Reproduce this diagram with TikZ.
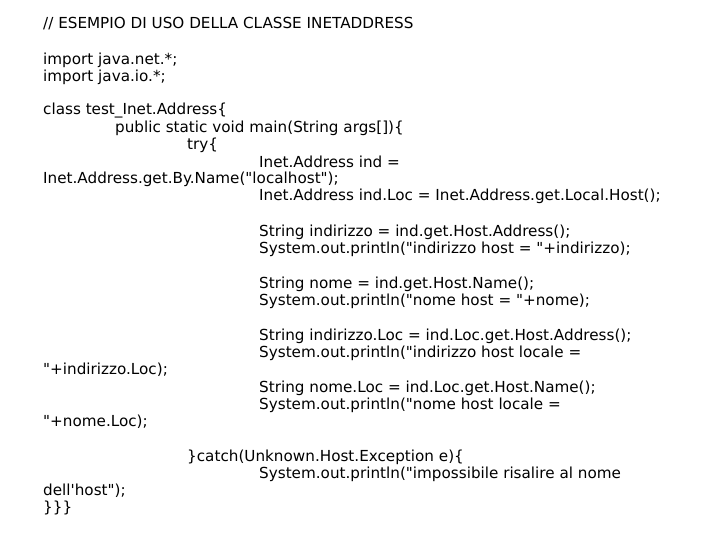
\documentclass[tikz,border=0pt]{standalone}
\usepackage{fontspec}
\newfontfamily\codefont{DejaVu Sans}
\newcommand{\dq}{\char34{}}
\newcommand{\sq}{\char39{}}
\begin{document}
\begin{tikzpicture}[x=1pt,y=-1pt,t/.style={anchor=west,inner sep=0pt,font=\codefont\fontsize{15.2}{17}\selectfont,text=black}]
\useasboundingbox (0,0) rectangle (720,540);
\node[t] (l1) at (43,24) {// ESEMPIO DI USO DELLA CLASSE INETADDRESS};
\node[t] (l2) at (43,60) {import java.net.*;};
\node[t] (l3) at (43,77) {import java.io.*;};
\node[t] (l4) at (43,111) {class test\_Inet.Address\{};
\node[t] (l5) at (115,128) {public static void main(String args[])\{};
\node[t] (l6) at (187,145) {try\{};
\node[t] (l7) at (259,162) {Inet.Address ind =};
\node[t] (l8) at (43,179) {Inet.Address.get.By.Name(\dq localhost\dq);};
\node[t] (l9) at (259,196) {Inet.Address ind.Loc = Inet.Address.get.Local.Host();};
\node[t] (l10) at (259,232) {String indirizzo = ind.get.Host.Address();};
\node[t] (l11) at (259,249) {System.out.println(\dq indirizzo host = \dq+indirizzo);};
\node[t] (l12) at (259,284) {String nome = ind.get.Host.Name();};
\node[t] (l13) at (259,301) {System.out.println(\dq nome host = \dq+nome);};
\node[t] (l14) at (259,336) {String indirizzo.Loc = ind.Loc.get.Host.Address();};
\node[t] (l15) at (259,353) {System.out.println(\dq indirizzo host locale =};
\node[t] (l16) at (43,370) {\dq+indirizzo.Loc);};
\node[t] (l17) at (259,388) {String nome.Loc = ind.Loc.get.Host.Name();};
\node[t] (l18) at (259,405) {System.out.println(\dq nome host locale =};
\node[t] (l19) at (43,422) {\dq+nome.Loc);};
\node[t] (l20) at (187,457) {\}catch(Unknown.Host.Exception e)\{};
\node[t] (l21) at (259,474) {System.out.println(\dq impossibile risalire al nome};
\node[t] (l22) at (43,491) {dell\sq host\dq);};
\node[t] (l23) at (43,508) {\}\}\}};
\end{tikzpicture}
\end{document}
